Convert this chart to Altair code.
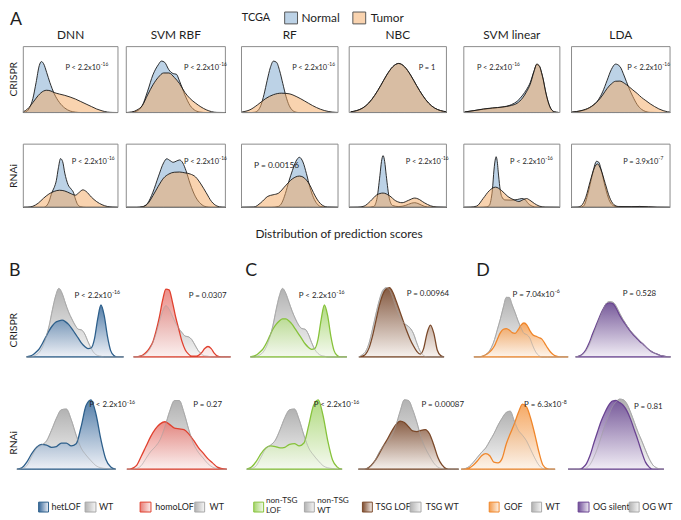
import altair as alt
import pandas as pd

FONT = "Lato"
W, H = 673, 512
OFF = 8
ONE = pd.DataFrame({"k": [0]})


def P(v):
    return v - OFF


# ---------------- Panel A: (prediction score, density) ----------------
A_CR_DNN_N = [(-0.09, 0), (-0.06, 0.1), (-0.03, 0.5), (0, 1.4), (0.03, 3.0), (0.06, 4.7), (0.08, 5.1), (0.1, 4.9),
              (0.13, 4.0), (0.16, 3.0), (0.2, 1.9), (0.25, 1.0), (0.3, 0.45), (0.35, 0.15), (0.4, 0.04), (0.45, 0), (0.8, 0)]
A_CR_DNN_T = [(-0.09, 0.08), (-0.05, 0.35), (0, 1.0), (0.05, 1.7), (0.1, 2.15), (0.13, 2.23), (0.17, 2.15), (0.2, 2.0),
              (0.25, 1.85), (0.3, 1.72), (0.35, 1.55), (0.4, 1.35), (0.45, 1.1), (0.5, 0.85), (0.55, 0.6), (0.6, 0.35),
              (0.65, 0.17), (0.7, 0.05), (0.75, 0.01), (0.8, 0)]
A_CR_RBF_N = [(0, 0), (0.05, 0.02), (0.1, 0.12), (0.15, 0.55), (0.2, 1.7), (0.25, 3.0), (0.3, 3.8), (0.33, 4.1),
              (0.36, 4.0), (0.4, 3.4), (0.44, 3.1), (0.47, 3.05), (0.5, 2.5), (0.55, 1.4), (0.6, 0.55), (0.65, 0.15),
              (0.7, 0.03), (0.75, 0), (0.93, 0)]
A_CR_RBF_T = [(0, 0), (0.05, 0.04), (0.1, 0.2), (0.15, 0.55), (0.2, 1.4), (0.25, 2.2), (0.3, 2.8), (0.35, 3.15),
              (0.4, 3.15), (0.45, 2.8), (0.5, 2.3), (0.55, 1.6), (0.6, 1.1), (0.65, 0.75), (0.7, 0.45), (0.75, 0.22),
              (0.8, 0.07), (0.85, 0.01), (0.93, 0)]
A_CR_RF_N = [(0, 0), (0.06, 0), (0.08, 0.05), (0.1, 0.3), (0.12, 1.2), (0.14, 3.0), (0.16, 5.3), (0.18, 7.4),
             (0.2, 8.5), (0.22, 8.3), (0.24, 6.9), (0.26, 4.8), (0.28, 2.7), (0.3, 1.2), (0.32, 0.4), (0.34, 0.1),
             (0.36, 0), (0.61, 0)]
A_CR_RF_T = [(0, 0.1), (0.05, 0.45), (0.1, 1.3), (0.15, 2.3), (0.2, 2.95), (0.25, 3.2), (0.3, 3.1), (0.35, 2.6),
             (0.4, 1.9), (0.45, 1.15), (0.5, 0.55), (0.55, 0.18), (0.6, 0.03), (0.61, 0.02)]
A_CR_NBC_N = [(-0.2, 0.1), (-0.175, 0.26), (-0.15, 0.61), (-0.125, 1.27), (-0.1, 2.3), (-0.075, 3.6), (-0.05, 5.0),
              (-0.025, 6.1), (0, 6.55), (0.025, 6.1), (0.05, 5.0), (0.075, 3.6), (0.1, 2.3), (0.125, 1.27),
              (0.15, 0.61), (0.175, 0.26), (0.2, 0.1)]
A_CR_NBC_T = [(-0.2, 0.1), (-0.175, 0.26), (-0.15, 0.61), (-0.125, 1.27), (-0.1, 2.3), (-0.075, 3.6), (-0.05, 5.0),
              (-0.025, 6.1), (0, 6.55), (0.025, 6.1), (0.05, 5.0), (0.075, 3.6), (0.1, 2.3), (0.125, 1.27),
              (0.15, 0.61), (0.175, 0.26), (0.2, 0.1)]
A_CR_SVML_N = [(0.6, 0.1), (0.65, 0.35), (0.7, 0.6), (0.75, 0.8), (0.8, 1.0), (0.85, 1.45), (0.88, 2.05), (0.91, 3.2),
               (0.93, 4.2), (0.95, 5.5), (0.97, 7.6), (0.985, 8.8), (1.0, 8.4), (1.01, 7.3), (1.02, 5.9), (1.03, 4.1),
               (1.04, 2.6), (1.05, 1.5), (1.06, 0.7), (1.08, 0.12), (1.1, 0.02)]
A_CR_SVML_T = [(0.6, 0.1), (0.65, 0.35), (0.7, 0.65), (0.75, 0.85), (0.8, 1.0), (0.85, 1.3), (0.88, 1.7), (0.91, 2.7),
               (0.93, 3.8), (0.95, 5.2), (0.97, 7.5), (0.985, 8.9), (1.0, 8.5), (1.01, 7.4), (1.02, 6.0), (1.03, 4.2),
               (1.04, 2.7), (1.05, 1.5), (1.06, 0.7), (1.08, 0.12), (1.1, 0.02)]
A_CR_LDA_N = [(0.1, 0.02), (0.2, 0.1), (0.3, 0.3), (0.35, 0.5), (0.4, 0.8), (0.45, 1.3), (0.5, 2.0), (0.55, 2.7),
              (0.6, 3.05), (0.65, 2.9), (0.7, 2.3), (0.75, 1.6), (0.8, 1.0), (0.85, 0.5), (0.9, 0.2), (0.95, 0.06),
              (1.0, 0.01), (1.1, 0), (1.23, 0)]
A_CR_LDA_T = [(0.09, 0.03), (0.2, 0.12), (0.3, 0.32), (0.35, 0.5), (0.4, 0.75), (0.45, 1.1), (0.5, 1.5), (0.55, 1.8),
              (0.6, 1.97), (0.65, 1.98), (0.7, 1.85), (0.75, 1.65), (0.8, 1.42), (0.85, 1.2), (0.9, 0.95),
              (0.95, 0.75), (1.0, 0.55), (1.05, 0.38), (1.1, 0.23), (1.15, 0.12), (1.2, 0.05), (1.23, 0.03)]

A_RN_DNN_N = [(-0.09, 0), (0.1, 0), (0.12, 0.1), (0.15, 0.7), (0.18, 2.0), (0.2, 2.6), (0.22, 3.5), (0.24, 5.2),
              (0.26, 6.4), (0.28, 6.0), (0.3, 4.5), (0.33, 3.0), (0.36, 2.4), (0.38, 2.0), (0.4, 1.1), (0.42, 0.4),
              (0.45, 0.08), (0.5, 0), (0.8, 0)]
A_RN_DNN_T = [(-0.09, 0), (-0.05, 0.02), (0, 0.15), (0.05, 0.55), (0.1, 1.2), (0.15, 1.75), (0.2, 2.1), (0.25, 2.25),
              (0.3, 2.15), (0.35, 1.85), (0.4, 1.6), (0.43, 1.9), (0.47, 2.3), (0.5, 2.1), (0.55, 1.35), (0.6, 0.75),
              (0.65, 0.35), (0.7, 0.12), (0.75, 0.03), (0.8, 0)]
A_RN_RBF_N = [(0, 0), (0.1, 0), (0.15, 0.05), (0.2, 0.35), (0.25, 1.3), (0.3, 2.6), (0.35, 3.8), (0.38, 4.15),
              (0.41, 4.0), (0.44, 3.85), (0.47, 3.95), (0.5, 4.05), (0.53, 3.8), (0.56, 3.15), (0.6, 2.0), (0.65, 0.9),
              (0.7, 0.3), (0.75, 0.05), (0.8, 0), (0.93, 0)]
A_RN_RBF_T = [(0, 0), (0.1, 0), (0.15, 0.05), (0.2, 0.3), (0.25, 1.0), (0.3, 1.8), (0.35, 2.5), (0.4, 2.85),
              (0.45, 3.0), (0.5, 3.02), (0.55, 2.95), (0.6, 2.85), (0.65, 2.6), (0.7, 2.0), (0.75, 1.25), (0.8, 0.5),
              (0.85, 0.12), (0.9, 0.01), (0.93, 0)]
A_RN_RF_N = [(0.475, 0), (0.56, 0), (0.58, 0.3), (0.59, 1.5), (0.6, 4.5), (0.61, 8.5), (0.62, 12.0), (0.63, 15.0),
             (0.64, 16.3), (0.65, 14.8), (0.66, 11.0), (0.67, 6.5), (0.68, 3.2), (0.69, 1.2), (0.7, 0.3), (0.72, 0),
             (0.75, 0)]
A_RN_RF_T = [(0.475, 0), (0.51, 0.1), (0.53, 1.5), (0.55, 3.6), (0.565, 4.1), (0.58, 4.6), (0.6, 7.0), (0.62, 9.3),
             (0.64, 10.2), (0.65, 9.9), (0.66, 8.9), (0.67, 7.2), (0.68, 4.8), (0.69, 2.7), (0.7, 1.2), (0.71, 0.4),
             (0.72, 0.1), (0.75, 0)]
A_RN_NBC_N = [(-1.07, 0), (-0.5, 0), (-0.3, 0.05), (-0.2, 0.5), (-0.1, 2.05), (-0.05, 2.95), (0, 3.32), (0.05, 2.95),
              (0.1, 2.05), (0.2, 0.55), (0.3, 0.12), (0.5, 0.05), (0.7, 0.12), (0.9, 0.27), (1.0, 0.3), (1.1, 0.25),
              (1.3, 0.07), (1.5, 0.01), (2.0, 0)]
A_RN_NBC_T = [(-1.07, 0), (-0.8, 0.01), (-0.6, 0.08), (-0.4, 0.4), (-0.2, 0.8), (0, 0.92), (0.2, 0.75), (0.4, 0.42),
              (0.6, 0.3), (0.8, 0.45), (1.0, 0.6), (1.1, 0.55), (1.3, 0.3), (1.5, 0.1), (1.7, 0.02), (2.0, 0)]
A_RN_SVML_N = [(-1.02, 0), (-0.5, 0), (-0.3, 0.02), (-0.2, 0.1), (-0.15, 0.35), (-0.1, 0.9), (-0.05, 1.9), (0, 2.5),
               (0.02, 2.58), (0.05, 2.4), (0.1, 1.6), (0.15, 0.9), (0.2, 0.55), (0.3, 0.38), (0.5, 0.37), (0.7, 0.4),
               (0.85, 0.45), (0.95, 0.4), (1.05, 0.2), (1.2, 0.05), (1.3, 0.01), (1.5, 0), (2.07, 0)]
A_RN_SVML_T = [(-1.02, 0), (-0.8, 0.01), (-0.6, 0.07), (-0.4, 0.45), (-0.2, 0.85), (0, 1.03), (0.2, 0.85), (0.4, 0.55),
               (0.6, 0.38), (0.75, 0.3), (0.9, 0.4), (1.0, 0.45), (1.1, 0.37), (1.25, 0.2), (1.4, 0.07), (1.6, 0.01),
               (2.07, 0)]
A_RN_LDA_N = [(-0.58, 0), (-0.4, 0), (-0.3, 0.08), (-0.2, 0.75), (-0.1, 1.75), (0, 2.5), (0.05, 2.45), (0.1, 2.1),
              (0.2, 1.1), (0.3, 0.35), (0.4, 0.08), (0.5, 0.03), (0.8, 0.03), (1.0, 0.05), (1.2, 0.02), (1.4, 0),
              (1.7, 0)]
A_RN_LDA_T = [(-0.58, 0), (-0.45, 0.01), (-0.35, 0.1), (-0.25, 0.55), (-0.15, 1.4), (-0.05, 2.15), (0.02, 2.36),
              (0.1, 2.05), (0.2, 1.3), (0.3, 0.55), (0.4, 0.15), (0.5, 0.05), (0.8, 0.04), (1.0, 0.05), (1.2, 0.03),
              (1.4, 0.01), (1.7, 0)]

# ---------------- Panels B-D: differential dependency grids and relative densities ----------------
G_CR_1 = [-0.5, -0.45, -0.4, -0.35, -0.3, -0.25, -0.2, -0.15, -0.1, -0.05, 0, 0.05, 0.1, 0.15, 0.2, 0.25, 0.3,
          0.35, 0.4, 0.45, 0.5, 0.55, 0.6, 0.65, 0.7, 0.75, 0.8, 0.85, 0.9, 0.95, 1.0]
G_CR_TSG = [-0.4, -0.35, -0.3, -0.25, -0.2, -0.15, -0.1, -0.05, 0, 0.05, 0.1, 0.15, 0.2, 0.25, 0.3, 0.35, 0.4,
            0.45, 0.5, 0.55, 0.6, 0.65, 0.7, 0.75, 0.8, 0.85]
G_CR_GOF = [-0.55, -0.5, -0.45, -0.4, -0.35, -0.3, -0.25, -0.2, -0.15, -0.1, -0.05, 0, 0.05, 0.1, 0.15, 0.2, 0.25,
            0.3, 0.35, 0.4, 0.45, 0.5, 0.55, 0.6, 0.65, 0.7, 0.75, 0.8, 0.85, 0.9, 0.95, 1.0, 1.05]
G_CR_OG = [-0.5, -0.45, -0.4, -0.35, -0.3, -0.25, -0.2, -0.15, -0.1, -0.05, 0, 0.05, 0.1, 0.15, 0.2, 0.25, 0.3,
           0.35, 0.4, 0.45, 0.5, 0.55, 0.6, 0.65, 0.7, 0.75, 0.8, 0.85, 0.9]
G_RN_1 = [-0.4, -0.35, -0.3, -0.25, -0.2, -0.15, -0.1, -0.05, 0, 0.05, 0.1, 0.15, 0.2, 0.25, 0.3, 0.35, 0.4, 0.45,
          0.5, 0.55, 0.6]
G_RN_HOMO = [-0.45, -0.4, -0.35, -0.3, -0.25, -0.2, -0.15, -0.1, -0.05, 0, 0.05, 0.1, 0.15, 0.2, 0.25, 0.3, 0.35,
             0.4, 0.45, 0.5, 0.55, 0.6]
G_RN_TSG = [-0.5, -0.45, -0.4, -0.35, -0.3, -0.25, -0.2, -0.15, -0.1, -0.05, 0, 0.05, 0.1, 0.15, 0.2, 0.25, 0.3,
            0.35, 0.4, 0.45, 0.5, 0.55, 0.6, 0.65, 0.7]
G_RN_GOF = [-0.5, -0.45, -0.4, -0.35, -0.3, -0.25, -0.2, -0.15, -0.1, -0.05, 0, 0.05, 0.1, 0.15, 0.2, 0.25, 0.3,
            0.35, 0.4, 0.45, 0.5, 0.55, 0.6, 0.65]
G_RN_OG = [-0.65, -0.6, -0.55, -0.5, -0.45, -0.4, -0.35, -0.3, -0.25, -0.2, -0.15, -0.1, -0.05, 0, 0.05, 0.1, 0.15,
           0.2, 0.25, 0.3, 0.35, 0.4, 0.45, 0.5, 0.55, 0.6, 0.65]

B_CR_WT = [0, 0, 0.01, 0.03, 0.07, 0.15, 0.28, 0.45, 0.68, 0.88, 0.99, 0.92, 0.78, 0.65, 0.55, 0.46, 0.40, 0.39, 0.33,
           0.22, 0.12, 0.05, 0.02, 0.01, 0, 0, 0, 0, 0, 0, 0]
B_CR_HET = [0, 0.01, 0.03, 0.07, 0.12, 0.2, 0.29, 0.38, 0.45, 0.5, 0.52, 0.53, 0.51, 0.47, 0.41, 0.34, 0.27, 0.2,
            0.15, 0.12, 0.13, 0.26, 0.55, 0.75, 0.6, 0.3, 0.09, 0.02, 0, 0, 0]
B_CR_WT2 = [0, 0, 0.01, 0.02, 0.05, 0.11, 0.21, 0.34, 0.51, 0.66, 0.74, 0.69, 0.59, 0.49, 0.41, 0.35, 0.30, 0.29, 0.25,
            0.17, 0.09, 0.04, 0.015, 0.01, 0, 0, 0, 0, 0, 0, 0]
B_CR_HOMO = [0, 0, 0.01, 0.03, 0.07, 0.13, 0.22, 0.38, 0.58, 0.82, 0.98, 0.97, 0.8, 0.58, 0.4, 0.22, 0.1, 0.04, 0.01,
             0.01, 0.02, 0.06, 0.12, 0.15, 0.12, 0.05, 0.01, 0, 0, 0, 0]
C_CR_WT = [0, 0, 0.01, 0.03, 0.07, 0.15, 0.28, 0.45, 0.68, 0.88, 0.99, 0.92, 0.79, 0.66, 0.55, 0.46, 0.41, 0.4, 0.33,
           0.21, 0.11, 0.05, 0.02, 0.01, 0, 0, 0, 0, 0, 0, 0]
C_CR_NONTSG = [0, 0.01, 0.03, 0.07, 0.12, 0.2, 0.3, 0.4, 0.47, 0.52, 0.55, 0.55, 0.52, 0.47, 0.4, 0.33, 0.26, 0.19,
               0.14, 0.11, 0.12, 0.25, 0.54, 0.75, 0.6, 0.3, 0.09, 0.02, 0, 0, 0]
C_CR_TSGWT = [0, 0.03, 0.08, 0.2, 0.4, 0.62, 0.82, 0.96, 1.0, 0.97, 0.85, 0.7, 0.58, 0.5, 0.46, 0.42, 0.34, 0.2, 0.08,
              0.02, 0, 0, 0, 0, 0, 0]
C_CR_TSG = [0, 0.01, 0.04, 0.13, 0.3, 0.52, 0.74, 0.9, 0.98, 1.0, 0.93, 0.8, 0.66, 0.52, 0.38, 0.26, 0.16, 0.08, 0.04,
            0.12, 0.34, 0.46, 0.34, 0.1, 0.02, 0]
D_CR_WT = [0, 0, 0, 0.01, 0.03, 0.07, 0.14, 0.25, 0.4, 0.55, 0.72, 0.86, 0.86, 0.75, 0.64, 0.52, 0.42, 0.34, 0.32,
           0.27, 0.16, 0.07, 0.02, 0, 0, 0, 0, 0, 0, 0, 0, 0, 0]
D_CR_GOF = [0, 0, 0, 0.01, 0.03, 0.06, 0.1, 0.16, 0.26, 0.35, 0.4, 0.41, 0.39, 0.35, 0.34, 0.39, 0.46, 0.49, 0.46,
            0.38, 0.32, 0.3, 0.28, 0.26, 0.2, 0.13, 0.07, 0.03, 0.01, 0, 0, 0, 0]
D_CR_OGWT = [0, 0.01, 0.03, 0.08, 0.17, 0.29, 0.42, 0.55, 0.67, 0.77, 0.8, 0.79, 0.73, 0.63, 0.54, 0.46, 0.39, 0.33,
             0.28, 0.23, 0.18, 0.13, 0.09, 0.06, 0.04, 0.02, 0.01, 0, 0]
D_CR_OG = [0, 0.01, 0.04, 0.1, 0.2, 0.33, 0.45, 0.57, 0.68, 0.76, 0.78, 0.77, 0.7, 0.6, 0.52, 0.45, 0.38, 0.32, 0.27,
           0.22, 0.18, 0.13, 0.09, 0.06, 0.04, 0.02, 0.01, 0, 0]

B_RN_WT = [0, 0.01, 0.05, 0.18, 0.3, 0.34, 0.4, 0.55, 0.72, 0.84, 0.85, 0.7, 0.48, 0.3, 0.2, 0.12, 0.05, 0.02, 0.01,
           0, 0]
B_RN_HET = [0, 0.02, 0.1, 0.22, 0.31, 0.35, 0.34, 0.31, 0.32, 0.37, 0.37, 0.33, 0.36, 0.6, 0.9, 0.98, 0.78, 0.42,
            0.14, 0.03, 0]
B_RN_WT2 = [0, 0, 0.01, 0.05, 0.15, 0.25, 0.32, 0.42, 0.6, 0.82, 0.97, 0.97, 0.8, 0.56, 0.36, 0.24, 0.16, 0.08, 0.03,
            0.01, 0, 0]
B_RN_HOMO = [0, 0.01, 0.05, 0.18, 0.32, 0.46, 0.57, 0.64, 0.67, 0.63, 0.58, 0.57, 0.56, 0.5, 0.41, 0.31, 0.23, 0.15,
             0.09, 0.03, 0.01, 0]
C_RN_WT = [0, 0.01, 0.05, 0.17, 0.29, 0.34, 0.41, 0.56, 0.73, 0.84, 0.85, 0.7, 0.48, 0.3, 0.2, 0.12, 0.05, 0.02, 0.01,
           0, 0]
C_RN_NONTSG = [0, 0.03, 0.11, 0.22, 0.3, 0.33, 0.32, 0.3, 0.31, 0.35, 0.36, 0.33, 0.37, 0.62, 0.9, 0.98, 0.76, 0.4,
               0.13, 0.03, 0]
C_RN_TSGWT = [0, 0, 0.01, 0.04, 0.12, 0.24, 0.33, 0.38, 0.47, 0.62, 0.82, 0.98, 0.97, 0.84, 0.66, 0.45, 0.3, 0.19,
              0.09, 0.03, 0.01, 0, 0, 0, 0]
C_RN_TSG = [0, 0, 0.01, 0.05, 0.12, 0.22, 0.33, 0.43, 0.54, 0.63, 0.68, 0.66, 0.6, 0.54, 0.53, 0.55, 0.56, 0.5, 0.35,
            0.17, 0.06, 0.01, 0, 0, 0]
D_RN_WT = [0, 0.01, 0.04, 0.1, 0.17, 0.24, 0.3, 0.4, 0.5, 0.62, 0.72, 0.8, 0.82, 0.68, 0.55, 0.48, 0.4, 0.28, 0.16,
           0.06, 0.01, 0, 0, 0]
D_RN_GOF = [0, 0.005, 0.02, 0.06, 0.12, 0.19, 0.22, 0.19, 0.1, 0.09, 0.15, 0.35, 0.5, 0.64, 0.8, 0.92, 0.88, 0.72,
            0.5, 0.25, 0.06, 0.01, 0, 0]
D_RN_OGWT = [0, 0, 0, 0, 0, 0.02, 0.07, 0.17, 0.3, 0.46, 0.62, 0.76, 0.88, 0.95, 0.99, 0.98, 0.92, 0.8, 0.66, 0.52,
             0.4, 0.27, 0.15, 0.06, 0.02, 0, 0]
D_RN_OG = [0, 0, 0, 0, 0.02, 0.08, 0.2, 0.37, 0.53, 0.68, 0.8, 0.9, 0.96, 0.97, 0.94, 0.9, 0.82, 0.7, 0.55, 0.4, 0.24,
           0.1, 0.03, 0, 0, 0, 0]

# colour sets: (line, gradient top, gradient bottom)
GRAY = ("#a8a8a8", "#b2b2b2", "#f6f6f6")
PAL = {
    "het": ("#2d5f8b", "#36689a", "#eceff6"),
    "homo": ("#e0402e", "#e77b74", "#fcefee"),
    "nontsg": ("#86c23a", "#a3d46a", "#f4f9ee"),
    "tsg": ("#7a4829", "#7d4b2e", "#f6f0ec"),
    "gof": ("#f0862a", "#f39a4a", "#fef3e8"),
    "og": ("#6a4392", "#6d4b96", "#f0ebf5"),
}


# ---------------- helpers ----------------
def text(s, x, y, size=8.0, align="center", angle=0, weight="normal", color="#1e1e1e", baseline="middle"):
    kw = dict(align=align, baseline=baseline, fontSize=size, font=FONT, fontWeight=weight, color=color)
    if angle:
        kw["angle"] = angle
    return alt.Chart(ONE).mark_text(**kw).encode(x=alt.value(P(x)), y=alt.value(P(y)), text=alt.value(s))


def ptext(main, exp, xend, y, size=7.5):
    out = [text(main, xend, y, size=size, align="right")]
    out.append(text(exp, xend + 0.4, y - size * 0.42, size=size * 0.66, align="left"))
    return out


def panel_a(normal, tumor, xdom, ydom, box, xticks, yticks, xfmt, yfmt):
    left, right, top, bottom = box
    xs = alt.Scale(domain=xdom, range=[P(left), P(right)], nice=False, zero=False)
    ys = alt.Scale(domain=ydom, range=[P(bottom), P(top)], nice=False, zero=False)
    df = pd.DataFrame([{"x": a, "y": b, "g": "Normal"} for a, b in normal] +
                      [{"x": a, "y": b, "g": "Tumor"} for a, b in tumor])
    common = dict(labelFont=FONT, labelFontSize=6.3, labelColor="#333", tickSize=3, tickColor="#555",
                  tickWidth=0.8, domain=False, grid=False, title=None, labelFlush=False, labelOverlap=False,
                  labelPadding=1.5)
    xax = alt.Axis(orient="bottom", offset=P(bottom) - H, values=xticks, format=xfmt, labelAngle=270,
                   labelAlign="right", labelBaseline="middle", **common)
    yax = alt.Axis(orient="left", offset=-P(left), values=yticks, format=yfmt, **common)
    base = alt.Chart(df)
    nrm = base.transform_filter(alt.datum.g == "Normal").mark_area(
        interpolate="monotone", fill="#8fb4d6", fillOpacity=0.6, stroke="#151515", strokeWidth=0.9
    ).encode(x=alt.X("x:Q", scale=xs, axis=xax), y=alt.Y("y:Q", scale=ys, axis=yax), y2=alt.datum(0))
    tum = base.transform_filter(alt.datum.g == "Tumor").mark_area(
        interpolate="monotone", fill="#f4a860", fillOpacity=0.5, stroke="#151515", strokeWidth=0.9
    ).encode(x=alt.X("x:Q", scale=xs, axis=None), y=alt.Y("y:Q", scale=ys, axis=None), y2=alt.datum(0))
    fdf = pd.DataFrame({"x0": [xdom[0]], "x1": [xdom[1]], "y0": [ydom[0]], "y1": [ydom[1]]})
    frame = alt.Chart(fdf).mark_rect(fillOpacity=0, stroke="#8a8a8a", strokeWidth=1).encode(
        x=alt.X("x0:Q", scale=xs, axis=None), x2="x1", y=alt.Y("y0:Q", scale=ys, axis=None), y2="y1")
    return alt.layer(nrm, tum, frame)


def grad(bottom_col, top_col):
    return alt.Gradient(gradient="linear", x1=0, x2=0, y1=1, y2=0,
                        stops=[alt.GradientStop(color=bottom_col, offset=0),
                               alt.GradientStop(color=top_col, offset=1)])


def panel_bcd(grid, wt, mut, pal, xdom, xr, base_y, top_y, xticks, xfmt, tpad):
    xs = alt.Scale(domain=xdom, range=[P(xr[0]), P(xr[1])], nice=False, zero=False)
    ys = alt.Scale(domain=[0, 1], range=[P(base_y), P(top_y)], nice=False, zero=False)
    df = pd.DataFrame({"x": grid + grid, "y": wt + mut, "g": ["WT"] * len(grid) + ["MUT"] * len(grid)})
    xax = alt.Axis(orient="bottom", offset=P(base_y) - H, values=xticks, format=xfmt, domain=True,
                   domainColor="#3a3a3a", domainWidth=1.4, ticks=False, labelFont=FONT, labelFontSize=6.5,
                   labelFontWeight="bold", labelColor="#333", labelPadding=3.5, grid=False,
                   title="Differential dependency", titleFont=FONT, titleFontSize=9.5, titleFontWeight="normal",
                   titleColor="#222", titlePadding=tpad, labelFlush=False, labelOverlap=False, zindex=1)
    base = alt.Chart(df)
    w = base.transform_filter(alt.datum.g == "WT").mark_area(
        interpolate="monotone", fill=grad(GRAY[2], GRAY[1]), stroke=GRAY[0], strokeWidth=1
    ).encode(x=alt.X("x:Q", scale=xs, axis=xax), y=alt.Y("y:Q", scale=ys, axis=None), y2=alt.datum(0))
    m = base.transform_filter(alt.datum.g == "MUT").mark_area(
        interpolate="monotone", fill=grad(pal[2], pal[1]), fillOpacity=0.85, stroke=pal[0], strokeWidth=1.3
    ).encode(x=alt.X("x:Q", scale=xs, axis=None), y=alt.Y("y:Q", scale=ys, axis=None), y2=alt.datum(0))
    wl = base.transform_filter(alt.datum.g == "WT").mark_line(
        interpolate="monotone", color=GRAY[0], strokeWidth=0.9, opacity=0.6
    ).encode(x=alt.X("x:Q", scale=xs, axis=None), y=alt.Y("y:Q", scale=ys, axis=None))
    return alt.layer(w, m, wl)


def legend_box(x0, x1, y0, y1, pal):
    g = alt.Gradient(gradient="linear", x1=0, x2=1, y1=0, y2=0,
                     stops=[alt.GradientStop(color=pal[1], offset=0), alt.GradientStop(color=pal[2], offset=1)])
    return alt.Chart(ONE).mark_rect(fill=g, stroke=pal[0], strokeWidth=1).encode(
        x=alt.value(P(x0)), x2=alt.value(P(x1)), y=alt.value(P(y0)), y2=alt.value(P(y1)))


def solid_box(x0, x1, y0, y1, col):
    return alt.Chart(ONE).mark_rect(fill=col, stroke="#555", strokeWidth=1).encode(
        x=alt.value(P(x0)), x2=alt.value(P(x1)), y=alt.value(P(y0)), y2=alt.value(P(y1)))


layers = []

# ---------------- Panel A ----------------
R1 = (44, 110.7)
R2 = (142.7, 206.7)
COLS = {"DNN": (23.5, 119.3), "SVM RBF": (127.7, 228), "RF": (244.3, 342), "NBC": (353.3, 451.7),
        "SVM linear": (469.3, 566.5), "LDA": (578.3, 678)}

layers += [
    panel_a(A_CR_DNN_N, A_CR_DNN_T, [-0.09, 0.8], [0, 6.6], COLS["DNN"] + R1,
            [0, 0.2, 0.4, 0.6, 0.8], [0, 1, 2, 3, 4, 5], ".1f", "d"),
    panel_a(A_CR_RBF_N, A_CR_RBF_T, [0, 0.93], [0, 5.25], COLS["SVM RBF"] + R1,
            [0.2, 0.4, 0.6, 0.8], [0, 1, 2, 3, 4], ".1f", "d"),
    panel_a(A_CR_RF_N, A_CR_RF_T, [-0.004, 0.613], [0, 10.9], COLS["RF"] + R1,
            [0, 0.2, 0.4, 0.6], [0, 2, 4, 6, 8], ".1f", "d"),
    panel_a(A_CR_NBC_N, A_CR_NBC_T, [-0.207, 0.2], [0, 8.8], COLS["NBC"] + R1,
            [-0.2, -0.1, 0, 0.1, 0.2], [0, 2, 4, 6], ".1f", "d"),
    panel_a(A_CR_SVML_N, A_CR_SVML_T, [0.596, 1.108], [0, 12.1], COLS["SVM linear"] + R1,
            [0.6, 0.7, 0.8, 0.9, 1.0, 1.1], [0, 2.5, 5, 7.5], ".1f", ".1f"),
    panel_a(A_CR_LDA_N, A_CR_LDA_T, [0.09, 1.23], [0, 4.15], COLS["LDA"] + R1,
            [0.25, 0.5, 0.75, 1.0], [0, 1, 2, 3], ".2f", "d"),
    panel_a(A_RN_DNN_N, A_RN_DNN_T, [-0.09, 0.8], [0, 8.3], COLS["DNN"] + R2,
            [0, 0.2, 0.4, 0.6, 0.8], [0, 2, 4, 6], ".1f", "d"),
    panel_a(A_RN_RBF_N, A_RN_RBF_T, [0, 0.93], [0, 5.4], COLS["SVM RBF"] + R2,
            [0.2, 0.4, 0.6, 0.8], [0, 1, 2, 3, 4], ".1f", "d"),
    panel_a(A_RN_RF_N, A_RN_RF_T, [0.475, 0.75], [0, 20.6], COLS["RF"] + R2,
            [0.5, 0.6, 0.7], [0, 5, 10, 15], ".1f", "d"),
    panel_a(A_RN_NBC_N, A_RN_NBC_T, [-1.07, 2.0], [0, 4.06], COLS["NBC"] + R2,
            [-1, 0, 1, 2], [0, 1, 2, 3], "d", "d"),
    panel_a(A_RN_SVML_N, A_RN_SVML_T, [-1.02, 2.07], [0, 3.22], COLS["SVM linear"] + R2,
            [-1, 0, 1, 2], [0, 1, 2], "d", "d"),
    panel_a(A_RN_LDA_N, A_RN_LDA_T, [-0.58, 1.7], [0, 3.43], COLS["LDA"] + R2,
            [-0.5, 0, 0.5, 1.0, 1.5], [0, 1, 2], ".1f", "d"),
]

for name, (l, r) in COLS.items():
    layers.append(text(name, (l + r) / 2, 32, size=12))

layers += [
    text("A", 10, 17, size=18, align="left"),
    text("TCGA", 259, 15, size=11),
    solid_box(288, 301, 9, 21, "#bcd2e6"),
    text("Normal", 305, 15, size=12, align="left"),
    solid_box(357, 370, 9, 21, "#f9d3af"),
    text("Tumor", 375, 15, size=12, align="left"),
    text("CRISPR", 9.5, 77, size=10.5, angle=270, baseline="top"),
    text("RNAi", 9.5, 175, size=10.5, angle=270, baseline="top"),
    text("Distribution of prediction scores", 343, 234, size=12),
]

# P values, panel A
layers += ptext("P < 2.2x10", "-16", 101.5, 65.5)
layers += ptext("P < 2.2x10", "-16", 221.5, 66)
layers += ptext("P < 2.2x10", "-16", 331, 66)
layers.append(text("P = 1", 432, 66, size=7.5))
layers += ptext("P < 2.2x10", "-16", 518, 65.5)
layers += ptext("P < 2.2x10", "-16", 670, 66)
layers += ptext("P < 2.2x10", "-16", 108, 161)
layers += ptext("P < 2.2x10", "-16", 221.5, 161)
layers.append(text("P = 0.00156", 257, 164, size=8.5, align="left"))
layers += ptext("P < 2.2x10", "-16", 446, 161)
layers += ptext("P < 2.2x10", "-16", 551.5, 161)
layers += ptext("P = 3.9x10", "-7", 666, 161)

# ---------------- Panels B, C, D ----------------
CR_BASE, CR_TOP = 358, 288
RN_BASE, RN_TOP = 471.7, 400
layers += [
    panel_bcd(G_CR_1, B_CR_WT, B_CR_HET, PAL["het"], [-0.5, 1.0], (26.7, 125), CR_BASE, CR_TOP,
              [0, 0.5], ".1f", 4.5),
    panel_bcd(G_CR_1, B_CR_WT2, B_CR_HOMO, PAL["homo"], [-0.5, 1.0], (135, 233.3), CR_BASE, CR_TOP,
              [0, 0.5], ".1f", 4.5),
    panel_bcd(G_CR_1, C_CR_WT, C_CR_NONTSG, PAL["nontsg"], [-0.55, 1.0], (250, 351), CR_BASE, CR_TOP,
              [0, 0.5], ".1f", 4.5),
    panel_bcd(G_CR_TSG, C_CR_TSGWT, C_CR_TSG, PAL["tsg"], [-0.42, 0.86], (361.7, 450), CR_BASE, CR_TOP,
              [0, 0.5], ".1f", 4.5),
    panel_bcd(G_CR_GOF, D_CR_WT, D_CR_GOF, PAL["gof"], [-0.57, 1.08], (478.3, 576.7), CR_BASE, CR_TOP,
              [-0.5, 0, 0.5, 1.0], ".1f", 4.5),
    panel_bcd(G_CR_OG, D_CR_OGWT, D_CR_OG, PAL["og"], [-0.51, 0.92], (581.7, 680), CR_BASE, CR_TOP,
              [0, 0.5], ".1f", 4.5),
    panel_bcd(G_RN_1, B_RN_WT, B_RN_HET, PAL["het"], [-0.42, 0.63], (15, 120), RN_BASE, RN_TOP,
              [-0.4, -0.2, 0, 0.2, 0.4, 0.6], ".1f", 2.5),
    panel_bcd(G_RN_HOMO, B_RN_WT2, B_RN_HOMO, PAL["homo"], [-0.45, 0.64], (128.3, 233.3), RN_BASE, RN_TOP,
              [-0.4, -0.2, 0, 0.2, 0.4, 0.6], ".1f", 2.5),
    panel_bcd(G_RN_1, C_RN_WT, C_RN_NONTSG, PAL["nontsg"], [-0.43, 0.63], (246.7, 349), RN_BASE, RN_TOP,
              [-0.4, -0.2, 0, 0.2, 0.4, 0.6], ".1f", 2.5),
    panel_bcd(G_RN_TSG, C_RN_TSGWT, C_RN_TSG, PAL["tsg"], [-0.53, 0.71], (360, 465), RN_BASE, RN_TOP,
              [-0.5, -0.25, 0, 0.25, 0.5], ".2f", 2.5),
    panel_bcd(G_RN_GOF, D_RN_WT, D_RN_GOF, PAL["gof"], [-0.52, 0.65], (465, 561.7), RN_BASE, RN_TOP,
              [-0.3, 0, 0.3, 0.6], ".1f", 2.5),
    panel_bcd(G_RN_OG, D_RN_OGWT, D_RN_OG, PAL["og"], [-0.67, 0.67], (573.3, 673.3), RN_BASE, RN_TOP,
              [-0.4, 0, 0.4], ".1f", 2.5),
]

layers += [
    text("B", 9, 271, size=18, align="left"),
    text("C", 248, 271, size=18, align="left"),
    text("D", 482, 271, size=18, align="left"),
    text("CRISPR", 9.5, 331, size=10.5, angle=270, baseline="top"),
    text("RNAi", 9.5, 445, size=10.5, angle=270, baseline="top"),
]

layers += ptext("P < 2.2x10", "-16", 113, 296, size=8)
layers.append(text("P = 0.0307", 210, 296, size=8))
layers += ptext("P < 2.2x10", "-16", 340, 296, size=8)
layers.append(text("P = 0.00964", 433, 294, size=8))
layers += ptext("P = 7.04x10", "-6", 561, 295, size=8)
layers.append(text("P = 0.528", 647, 294, size=8))
layers += ptext("P < 2.2x10", "-16", 128, 407, size=8)
layers.append(text("P = 0.27", 210, 407, size=8))
layers += ptext("P < 2.2x10", "-16", 355, 407, size=8)
layers.append(text("P = 0.00087", 448, 407, size=8))
layers += ptext("P = 6.3x10", "-8", 568, 407, size=8)
layers.append(text("P = 0.81", 656, 409, size=8))

# legends under B, C, D
LY0, LY1, LYC = 505, 515, 510
layers += [
    legend_box(39, 49, LY0, LY1, PAL["het"]), text("hetLOF", 52, LYC, size=9, align="left"),
    legend_box(86, 97, LY0, LY1, GRAY), text("WT", 100, LYC, size=9, align="left"),
    legend_box(141.7, 152.7, LY0, LY1, PAL["homo"]), text("homoLOF", 157, LYC, size=9, align="left"),
    legend_box(197, 207, LY0, LY1, GRAY), text("WT", 212, LYC, size=9, align="left"),
    legend_box(256.7, 266.7, LY0, LY1, PAL["nontsg"]),
    text("non-TSG", 269, 504, size=8.3, align="left"), text("LOF", 269, 514.5, size=8.3, align="left"),
    legend_box(308, 318, LY0, LY1, GRAY),
    text("non-TSG", 321, 504, size=8.3, align="left"), text("WT", 321, 514.5, size=8.3, align="left"),
    legend_box(366.7, 376.7, LY0, LY1, PAL["tsg"]), text("TSG LOF", 380, LYC, size=9, align="left"),
    legend_box(415, 426, LY0, LY1, GRAY), text("TSG WT", 430.7, LYC, size=9, align="left"),
    legend_box(495, 505, LY0, LY1, PAL["gof"]), text("GOF", 510, LYC, size=9, align="left"),
    legend_box(538, 548, LY0, LY1, GRAY), text("WT", 552, LYC, size=9, align="left"),
    legend_box(585, 596, LY0, LY1, PAL["og"]), text("OG silent", 600, LYC, size=9, align="left"),
    legend_box(636.7, 646.7, LY0, LY1, GRAY), text("OG WT", 650, LYC, size=9, align="left"),
]

chart = alt.layer(*layers).resolve_scale(x="independent", y="independent").properties(
    width=W, height=H, autosize=alt.AutoSizeParams(type="none"), padding=0, background="white"
).configure_view(strokeWidth=0)

chart.save("out.html", embed_options={"renderer": "svg", "actions": False})
